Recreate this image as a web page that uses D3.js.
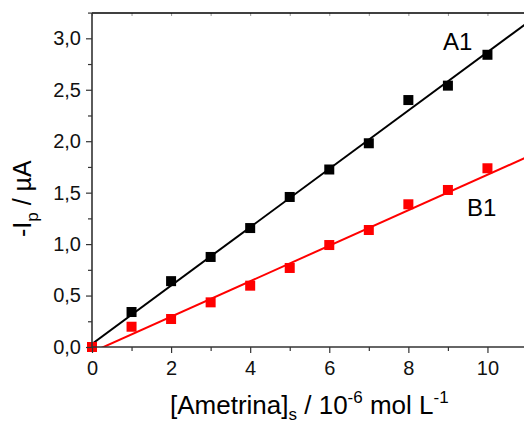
<!DOCTYPE html>
<html>
<head>
<meta charset="utf-8">
<script src="https://cdn.jsdelivr.net/npm/d3@7"></script>
<style>
html,body{margin:0;padding:0;background:#fff;overflow:hidden;}
svg{display:block;font-family:"Liberation Sans",Arial,sans-serif;}
</style>
</head>
<body>
<svg id="chart" width="524" height="425"></svg>
<script>
// ---- data ----
const concentrations = [0, 1, 2, 3, 4, 5, 6, 7, 8, 9, 10];
const seriesA1 = [0, 0.34, 0.64, 0.875, 1.156, 1.458, 1.725, 1.98, 2.40, 2.54, 2.84];
const seriesB1 = [0, 0.197, 0.272, 0.434, 0.596, 0.768, 0.991, 1.137, 1.387, 1.526, 1.737];
const fitA1 = [0.03, 0.2836];   // intercept, slope
const fitB1 = [-0.05, 0.1724];  // intercept, slope
const xTicks = [0, 2, 4, 6, 8, 10];
const xMinorTicks = [1, 3, 5, 7, 9, 11];
const yTicks = [0, 0.5, 1.0, 1.5, 2.0, 2.5, 3.0];
const yMinorTicks = [0.25, 0.75, 1.25, 1.75, 2.25, 2.75, 3.25];
const seriesLabels = ["A1", "B1"];
const seriesColors = ["#000000", "#ff0000"];

(function () {
const svg = d3.select("#chart");
const pL = 92, pT = 13, pB = 347, pR = 527;
const x = d3.scaleLinear().domain([0, 11]).range([pL, pR]);
const y = d3.scaleLinear().domain([0, 3.246]).range([pB, pT]);
const fmt = d => d3.format(".1f")(d).replace(".", ",");

svg.append("defs").append("clipPath").attr("id", "clip")
  .append("rect").attr("x", pL).attr("y", pT).attr("width", pR - pL).attr("height", pB - pT);

// fit lines
const fits = [fitA1, fitB1];
fits.forEach((f, i) => {
  const pts = [0, 11].map(v => [v, f[0] + f[1] * v]);
  svg.append("path")
    .attr("clip-path", "url(#clip)")
    .attr("d", d3.line().x(d => x(d[0])).y(d => y(d[1]))(pts))
    .attr("stroke", seriesColors[i]).attr("stroke-width", 2).attr("fill", "none");
});

// markers
const sz = 10;
[seriesA1, seriesB1].forEach((s, i) => {
  svg.append("g").selectAll("rect").data(s).join("rect")
    .attr("x", (d, j) => x(concentrations[j]) - sz / 2)
    .attr("y", d => y(d) - sz / 2)
    .attr("width", sz).attr("height", sz)
    .attr("fill", seriesColors[i]);
});

// axes
const axisColor = "#333";
const xAxis = svg.append("g").attr("transform", `translate(0,${pB})`)
  .call(d3.axisBottom(x).tickValues(xTicks).tickFormat(d3.format("d")).tickSize(6).tickPadding(8));
const xMinor = svg.append("g").attr("transform", `translate(0,${pB})`)
  .call(d3.axisBottom(x).tickValues(xMinorTicks).tickFormat("").tickSize(4));
const yAxis = svg.append("g").attr("transform", `translate(${pL},0)`)
  .call(d3.axisLeft(y).tickValues(yTicks).tickFormat(fmt).tickSize(6).tickPadding(5));
const yMinor = svg.append("g").attr("transform", `translate(${pL},0)`)
  .call(d3.axisLeft(y).tickValues(yMinorTicks).tickFormat("").tickSize(4));
const topAxis = svg.append("g").attr("transform", `translate(0,${pT})`)
  .call(d3.axisTop(x).tickValues(xTicks.concat(xMinorTicks)).tickFormat("").tickSize(-3));
[xAxis, xMinor, yAxis, yMinor, topAxis].forEach(g => {
  g.attr("font-size", null).attr("font-family", null);
  g.select(".domain").remove();
  g.selectAll("line").attr("stroke", axisColor).attr("stroke-width", 1.2);
  g.selectAll("text").attr("fill", "#111").attr("font-size", 20).attr("font-family", "Liberation Sans, Arial, sans-serif");
});
topAxis.selectAll("line").attr("stroke", "#999").attr("stroke-width", 1);
// frame lines
svg.append("line").attr("x1", pL).attr("x2", 524).attr("y1", pB).attr("y2", pB).attr("stroke", axisColor).attr("stroke-width", 1.6);
svg.append("line").attr("x1", pL).attr("x2", 524).attr("y1", pT).attr("y2", pT).attr("stroke", "#000").attr("stroke-width", 1.6);
svg.append("line").attr("x1", pL).attr("x2", pL).attr("y1", pT).attr("y2", pB).attr("stroke", axisColor).attr("stroke-width", 1.6);

// series labels
svg.append("text").attr("x", 443).attr("y", 50).text(seriesLabels[0])
  .attr("font-size", 24).attr("fill", "#000");
svg.append("text").attr("x", 467).attr("y", 216).text(seriesLabels[1])
  .attr("font-size", 24).attr("fill", "#000");

// x label
const xl = svg.append("text").attr("x", 170).attr("y", 414).attr("font-size", 26).attr("fill", "#000");
xl.append("tspan").text("[Ametrina]");
xl.append("tspan").text("s").attr("dy", 6).attr("font-size", 17);
xl.append("tspan").text(" / 10").attr("dy", -6);
xl.append("tspan").text("-6").attr("dy", -11).attr("font-size", 17);
xl.append("tspan").text(" mol L").attr("dy", 11);
xl.append("tspan").text("-1").attr("dy", -11).attr("font-size", 17);

// y label
const yl = svg.append("text").attr("transform", "translate(31,237) rotate(-90)").attr("font-size", 25).attr("fill", "#000");
yl.append("tspan").text("-I");
yl.append("tspan").text("p").attr("dy", 7).attr("font-size", 17);
yl.append("tspan").text(" / µA").attr("dy", -7);
})();
</script>
</body>
</html>
